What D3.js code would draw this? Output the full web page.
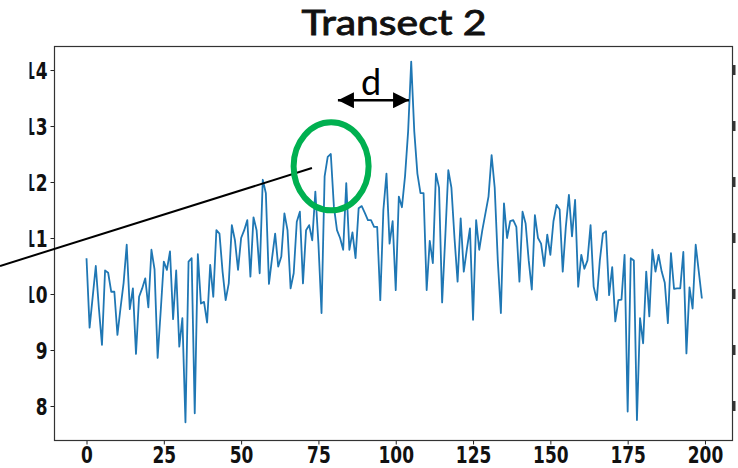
<!DOCTYPE html>
<html>
<head>
<meta charset="utf-8">
<script src="https://d3js.org/d3.v7.min.js"></script>
<style>
  body { margin: 0; background: #fff; }
  svg { display: block; }
  .tick text { font-family: 'DejaVu Sans', sans-serif; font-weight: bold; }
</style>
</head>
<body>
<svg></svg>
<script>
// values along the transect, one per sample index (0..199)
const values = [
  10.64, 9.40, 9.95, 10.50, 9.75, 9.09, 10.42, 10.38, 10.04, 10.04,
  9.27, 9.75, 10.2, 10.88, 9.73, 10.1, 8.93, 9.95, 10.1, 10.28,
  9.76, 10.79, 10.44, 8.86, 9.7, 10.58, 10.43, 10.76, 9.55, 10.42,
  9.06, 9.57, 7.71, 10.58, 10.64, 7.87, 10.71, 9.83, 9.86, 9.49,
  10.52, 9.95, 11.14, 11.08, 10.4, 9.89, 10.19, 11.23, 10.96, 10.43,
  11.0, 11.14, 11.32, 10.31, 11.37, 11.14, 10.37, 12.04, 11.8, 10.18,
  10.64, 11.08, 10.49, 10.67, 11.44, 11.14, 10.1, 10.37, 11.29, 11.47,
  10.19, 11.14, 11.23, 10.96, 11.83, 10.9, 9.66, 12.1, 12.45, 12.5,
  11.56, 11.14, 11.0, 10.79, 11.98, 10.79, 11.1, 10.64, 11.53, 11.57,
  11.45, 11.32, 11.32, 11.2, 11.2, 9.89, 11.5, 12.15, 10.9, 11.3,
  10.07, 11.74, 11.55, 12.1, 12.9, 14.15, 12.9, 12.15, 11.8, 11.8,
  10.07, 10.95, 10.55, 12.15, 11.9, 9.85, 11.0, 12.21, 11.9, 11.0,
  10.22, 11.35, 10.4, 10.8, 11.17, 9.54, 11.32, 10.79, 11.14, 11.44,
  11.74, 12.48, 11.9, 10.6, 9.66, 11.62, 11.0, 11.3, 11.32, 11.2,
  10.22, 11.47, 11.26, 10.6, 10.08, 11.41, 11.0, 10.9, 10.5, 11.06,
  10.7, 11.3, 11.59, 11.51, 10.4, 11.2, 11.77, 11.03, 11.68, 10.13,
  10.7, 10.45, 10.6, 11.23, 10.13, 9.89, 10.6, 11.08, 11.12, 9.98,
  10.48, 9.51, 9.89, 9.9, 10.7, 7.9, 10.64, 10.6, 7.75, 9.57,
  9.12, 10.4, 9.6, 10.79, 10.4, 10.7, 10.4, 10.2, 9.48, 10.73,
  10.09, 10.1, 10.1, 10.75, 8.94, 10.12, 9.74, 10.88, 10.4, 9.92
];
const xTicks = [0, 25, 50, 75, 100, 125, 150, 175, 200];
const yTicks = [8, 9, 10, 11, 12, 13, 14];

const titleText = 'Transect 2';
const width = 738;
const height = 468;
const plot = { left: 54.5, top: 46.5, right: 732.5, bottom: 440.5 };

const svg = d3.select('svg')
  .attr('width', width)
  .attr('height', height);

const xScale = d3.scaleLinear()
  .domain([-10.35, 208.9])
  .range([plot.left, plot.right]);

const yScale = d3.scaleLinear()
  .domain([7.384, 14.42])
  .range([plot.bottom, plot.top]);

// axes
const xAxis = svg.append('g')
  .attr('transform', `translate(0, ${plot.bottom})`)
  .call(d3.axisBottom(xScale).tickValues(xTicks).tickFormat(d3.format('d'))
    .tickSize(4).tickSizeOuter(0));

const yAxis = svg.append('g')
  .attr('transform', `translate(${plot.left}, 0)`)
  .call(d3.axisLeft(yScale).tickValues(yTicks).tickFormat(d3.format('d'))
    .tickSize(4).tickSizeOuter(0));

[xAxis, yAxis].forEach(a => {
  a.select('.domain').remove();
  a.selectAll('.tick line').attr('stroke', '#222').attr('stroke-width', 1);
  a.selectAll('.tick text').attr('fill', '#111').style('font-size', '17px');
});

// labels look vertically stretched in the reference
xAxis.selectAll('.tick text')
  .attr('y', 0)
  .attr('dy', 0)
  .attr('transform', 'translate(0, 22.5) scale(1, 1.33)');
yAxis.selectAll('.tick text')
  .attr('x', 0)
  .attr('dy', 0)
  .attr('transform', 'translate(-7, 8) scale(1, 1.33)');

// left part of the y labels is cut off in the source image
svg.append('rect')
  .attr('x', 0).attr('y', 50)
  .attr('width', 29.5).attr('height', 380)
  .attr('fill', '#fff');

// frame
svg.append('rect')
  .attr('x', plot.left).attr('y', plot.top)
  .attr('width', plot.right - plot.left)
  .attr('height', plot.bottom - plot.top)
  .attr('fill', 'none')
  .attr('stroke', '#333')
  .attr('stroke-width', 1.2);

// remnants of the next panel's labels on the right edge
svg.append('g')
  .selectAll('rect')
  .data(yTicks)
  .enter()
  .append('rect')
  .attr('x', plot.right)
  .attr('y', d => yScale(d) - 5)
  .attr('width', 3)
  .attr('height', 10)
  .attr('fill', '#333');

// the transect line
const line = d3.line()
  .x((d, i) => xScale(i))
  .y(d => yScale(d));

svg.append('path')
  .datum(values)
  .attr('d', line)
  .attr('fill', 'none')
  .attr('stroke', '#1f77b4')
  .attr('stroke-width', 1.8)
  .attr('stroke-linejoin', 'round');

// title
svg.append('text')
  .attr('x', 394)
  .attr('y', 35)
  .attr('text-anchor', 'middle')
  .attr('textLength', 185)
  .attr('lengthAdjust', 'spacingAndGlyphs')
  .style('font-family', 'Lato, "Open Sans", sans-serif')
  .style('font-size', '35px')
  .attr('fill', '#111')
  .attr('stroke', '#111')
  .attr('stroke-width', 0.9)
  .text(titleText);

// annotations
svg.append('line')
  .attr('x1', xScale(-27.97)).attr('y1', yScale(10.5))
  .attr('x2', xScale(72.9)).attr('y2', yScale(12.25))
  .attr('stroke', '#000')
  .attr('stroke-width', 2);

svg.append('ellipse')
  .attr('cx', xScale(79.1))
  .attr('cy', yScale(12.28))
  .attr('rx', 37.5)
  .attr('ry', 44)
  .attr('fill', 'none')
  .attr('stroke', '#00b050')
  .attr('stroke-width', 6);

const defs = svg.append('defs');
defs.append('marker')
  .attr('id', 'head')
  .attr('viewBox', '0 0 10 10')
  .attr('refX', 10).attr('refY', 5)
  .attr('markerWidth', 17).attr('markerHeight', 16)
  .attr('markerUnits', 'userSpaceOnUse')
  .attr('orient', 'auto-start-reverse')
  .append('path')
  .attr('d', 'M0,0 L10,5 L0,10 Z')
  .attr('fill', '#000');

svg.append('line')
  .attr('x1', xScale(81.3)).attr('y1', yScale(13.46))
  .attr('x2', xScale(104.3)).attr('y2', yScale(13.46))
  .attr('stroke', '#000')
  .attr('stroke-width', 2.5)
  .attr('marker-start', 'url(#head)')
  .attr('marker-end', 'url(#head)');

svg.append('text')
  .attr('x', 371)
  .attr('y', 95)
  .attr('text-anchor', 'middle')
  .style('font-family', 'Lato, "Open Sans", sans-serif')
  .style('font-size', '36px')
  .attr('fill', '#000')
  .text('d');
</script>
</body>
</html>
